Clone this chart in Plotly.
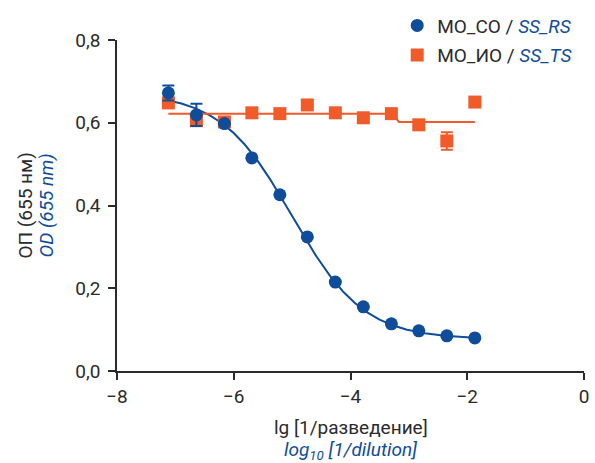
import numpy as np
import plotly.graph_objects as go

# lg(1/dilution), three-fold dilution series
log_dil = [-7.12, -6.64, -6.16, -5.69, -5.21, -4.74, -4.26, -3.78, -3.30, -2.83, -2.35, -1.87]

# MO_CO / SS_RS optical density at 655 nm
od_rs = [0.672, 0.619, 0.598, 0.515, 0.426, 0.324, 0.215, 0.155, 0.114, 0.097, 0.085, 0.080]
err_rs = [0.018, 0.027, 0, 0, 0, 0, 0, 0, 0, 0, 0, 0]

# MO_IO / SS_TS optical density at 655 nm
od_ts = [0.648, 0.605, 0.602, 0.624, 0.622, 0.643, 0.624, 0.612, 0.622, 0.595, 0.556, 0.650]
err_ts = [0, 0.012, 0, 0, 0, 0, 0, 0, 0, 0, 0.021, 0]

# four-parameter logistic fit for SS_RS
fit_top, fit_bottom, fit_logec50, fit_hill = 0.672, 0.077, -5.0, 0.71

# flat fit for SS_TS (two plateau levels)
ts_fit_x = [-7.12, -3.25, -3.21, -3.17, -1.87]
ts_fit_y = [0.622, 0.622, 0.609, 0.602, 0.602]

BLUE = "#0f4c9a"
ORANGE = "#f15a29"
DARK = "#2b2b2b"
FONT = "Roboto"

xs = np.linspace(-7.2, -1.87, 300)
ys = fit_bottom + (fit_top - fit_bottom) / (1 + 10 ** ((xs - fit_logec50) * fit_hill))

fig = go.Figure()

fig.add_trace(go.Scatter(
    x=xs, y=ys, mode="lines", line=dict(color=BLUE, width=2),
    showlegend=False, hoverinfo="skip"))
fig.add_trace(go.Scatter(
    x=ts_fit_x, y=ts_fit_y, mode="lines", line=dict(color=ORANGE, width=2),
    showlegend=False, hoverinfo="skip"))

fig.add_trace(go.Scatter(
    x=log_dil, y=od_ts, mode="markers",
    marker=dict(symbol="square", size=13, color=ORANGE),
    error_y=dict(type="data", array=err_ts, color=ORANGE, thickness=2, width=6),
    name="МО_ИО / <i><span style='color:%s'>SS_TS</span></i>" % BLUE,
    legend="legend2"))
fig.add_trace(go.Scatter(
    x=log_dil, y=od_rs, mode="markers",
    marker=dict(symbol="circle", size=13, color=BLUE),
    error_y=dict(type="data", array=err_rs, color=BLUE, thickness=2, width=6),
    name="МО_СО / <i><span style='color:%s'>SS_RS</span></i>" % BLUE,
    legend="legend"))

axis_common = dict(showgrid=False, zeroline=False, showline=True, linecolor=DARK, linewidth=1.5,
                   ticks="outside", ticklen=7, tickwidth=1.5, tickcolor=DARK,
                   tickfont=dict(size=19, color=DARK))

legend_common = dict(x=0.600, xanchor="left", yanchor="top", bgcolor="rgba(0,0,0,0)",
                     font=dict(family=FONT, size=19, color=DARK))

fig.update_layout(
    width=595, height=463,
    margin=dict(l=117, r=11, t=40, b=92, autoexpand=False),
    plot_bgcolor="white", paper_bgcolor="white",
    font=dict(family=FONT, size=19, color=DARK),
    legend=dict(y=1.101, **legend_common),
    legend2=dict(y=1.012, **legend_common),
    xaxis=dict(range=[-8, 0], tickvals=[-8, -6, -4, -2, 0],
               ticktext=["\u22128", "\u22126", "\u22124", "\u22122", "0"], **axis_common),
    yaxis=dict(range=[0, 0.8], tickvals=[0, 0.2, 0.4, 0.6, 0.8],
               ticktext=["0,0", "0,2", "0,4", "0,6", "0,8"], ticklabelstandoff=4, **axis_common),
    annotations=[
        dict(text="ОП (655 нм)", xref="paper", yref="paper", x=-0.197, y=0.5,
             xanchor="center", yanchor="middle", textangle=-90, showarrow=False,
             font=dict(size=19, color=DARK)),
        dict(text="<i>OD (655 nm)</i>", xref="paper", yref="paper", x=-0.150, y=0.5,
             xanchor="center", yanchor="middle", textangle=-90, showarrow=False,
             font=dict(size=19, color=BLUE)),
        dict(text="lg [1/разведение]", xref="paper", yref="paper", x=0.5, y=-0.172,
             xanchor="center", yanchor="middle", showarrow=False,
             font=dict(size=19, color=DARK)),
        dict(text="<i>log<sub>10</sub> [1/dilution]</i>", xref="paper", yref="paper", x=0.5, y=-0.240,
             xanchor="center", yanchor="middle", showarrow=False,
             font=dict(size=19, color=BLUE)),
    ],
)

fig.write_html("out.html")
